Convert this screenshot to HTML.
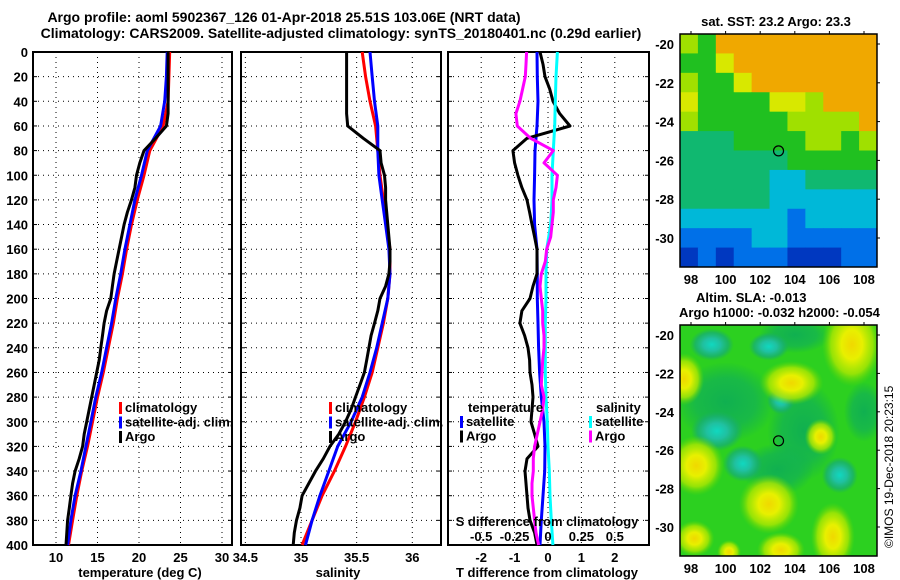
<!DOCTYPE html>
<html><head><meta charset="utf-8"><style>
html,body{margin:0;padding:0;background:#fff;}
svg{display:block;font-family:"Liberation Sans",sans-serif;font-weight:bold;}
</style></head><body>
<svg id="chart" width="900" height="580" viewBox="0 0 900 580" xmlns="http://www.w3.org/2000/svg">
<defs>
<radialGradient id="gy"><stop offset="0" stop-color="#f0d800"/><stop offset="0.35" stop-color="#e8f000"/><stop offset="0.7" stop-color="#b0e800" stop-opacity="0.8"/><stop offset="1" stop-color="#60d800" stop-opacity="0"/></radialGradient>
<radialGradient id="gt"><stop offset="0" stop-color="#10d8c0"/><stop offset="0.4" stop-color="#20c0a0"/><stop offset="0.75" stop-color="#18b070" stop-opacity="0.8"/><stop offset="1" stop-color="#18b060" stop-opacity="0"/></radialGradient>
<radialGradient id="gd"><stop offset="0" stop-color="#10b050"/><stop offset="0.6" stop-color="#14b450" stop-opacity="0.8"/><stop offset="1" stop-color="#10b050" stop-opacity="0"/></radialGradient>
<clipPath id="clipM2"><rect x="680" y="325" width="197" height="231"/></clipPath>
</defs>
<text x="284" y="22" font-size="14" text-anchor="middle">Argo profile: aoml 5902367_126 01-Apr-2018 25.51S 103.06E (NRT data)</text>
<text x="341" y="38" font-size="14" text-anchor="middle">Climatology: CARS2009. Satellite-adjusted climatology: synTS_20180401.nc (0.29d earlier)</text>
<g id="plots"></g>
</svg>
<script>
// ---- data ----
const depth20 = [0,20,40,60,80,100,120,140,160,180,200,220,240,260,280,300,320,340,360,380,400];
const depth10 = [0,10,20,30,40,50,60,70,80,90,100,110,120,130,140,150,160,170,180,190,200,210,220,230,240,250,260,270,280,290,300,310,320,330,340,350,360,370,380,390,400];
const tempClim = [23.7,23.6,23.5,22.9,21.3,20.6,19.8,19.1,18.5,18.0,17.4,16.9,16.3,15.7,15.0,14.4,13.8,13.1,12.5,12.0,11.5];
const tempSat = [23.4,23.3,23.1,22.6,21.0,20.3,19.5,18.9,18.3,17.8,17.2,16.7,16.1,15.5,14.8,14.2,13.6,13.0,12.3,11.8,11.4];
const tempArgo = [23.5,23.5,23.5,23.5,23.5,23.5,23.3,22.0,20.6,20.1,19.7,19.5,19.1,18.6,18.2,17.9,17.6,17.3,17.0,16.8,16.6,16.1,15.8,15.6,15.4,15.2,14.9,14.6,14.3,14.0,13.7,13.4,13.2,12.8,12.3,12.0,11.8,11.6,11.4,11.3,11.2];
const salClim = [35.55,35.58,35.62,35.67,35.69,35.71,35.74,35.77,35.80,35.80,35.78,35.74,35.69,35.64,35.57,35.49,35.40,35.30,35.19,35.10,35.01];
const salSat = [35.62,35.64,35.66,35.69,35.69,35.70,35.73,35.76,35.79,35.80,35.78,35.73,35.68,35.62,35.55,35.45,35.33,35.25,35.17,35.10,35.04];
const salArgo = [35.41,35.41,35.41,35.41,35.41,35.41,35.42,35.56,35.71,35.72,35.75,35.76,35.76,35.77,35.78,35.79,35.80,35.80,35.79,35.76,35.71,35.69,35.66,35.63,35.61,35.59,35.57,35.53,35.49,35.45,35.40,35.34,35.26,35.20,35.13,35.07,35.01,34.99,34.96,34.94,34.93];
const dTSat = [-0.33,-0.32,-0.30,-0.33,-0.39,-0.40,-0.42,-0.40,-0.33,-0.32,-0.32,-0.30,-0.28,-0.25,-0.20,-0.12,-0.09,-0.10,-0.15,-0.20,-0.24];
const dTArgo = [-0.24,-0.15,-0.09,0.05,0.15,0.35,0.66,-0.63,-1.05,-1.0,-0.90,-0.78,-0.63,-0.55,-0.48,-0.40,-0.33,-0.33,-0.33,-0.45,-0.54,-0.78,-0.84,-0.70,-0.60,-0.55,-0.54,-0.48,-0.45,-0.48,-0.51,-0.40,-0.30,-0.63,-0.69,-0.66,-0.63,-0.60,-0.54,-0.40,-0.33];
const dSSat = [0.07,0.06,0.055,0.05,0.04,0.03,0.03,0.02,-0.01,-0.015,-0.015,-0.02,-0.02,-0.02,-0.015,-0.005,0.0,0.01,0.015,0.025,0.037];
const dSArgo = [-0.16,-0.165,-0.17,-0.19,-0.21,-0.24,-0.23,-0.13,0.04,-0.03,0.07,0.06,0.04,0.04,0.03,0.02,-0.01,-0.02,-0.05,-0.06,-0.05,-0.04,-0.04,-0.03,-0.03,-0.04,-0.045,-0.05,-0.03,-0.04,-0.06,-0.08,-0.10,-0.11,-0.11,-0.12,-0.12,-0.11,-0.10,-0.09,-0.07];
const tempTicks = [10,15,20,25,30];
const salTicks = [34.5,35,35.5,36];
const dTTicks = [-2,-1,0,1,2];
const dSTicks = [-0.5,-0.25,0,0.25,0.5];
const depthTicks = [0,20,40,60,80,100,120,140,160,180,200,220,240,260,280,300,320,340,360,380,400];
const lonTicks = [98,100,102,104,106,108];
const latTicks = [-20,-22,-24,-26,-28,-30];

const NS='http://www.w3.org/2000/svg';
const root=document.getElementById('plots');
function mk(tag,attrs,parent,txt){const e=document.createElementNS(NS,tag);for(const k in attrs)e.setAttribute(k,attrs[k]);if(txt!==undefined)e.textContent=txt;(parent||root).appendChild(e);return e;}

const Y0=52,Y1=545;
const yD=d=>Y0+(d/400)*(Y1-Y0);
const xT=v=>56+(v-10)*8.3;
const xS=v=>301+(v-35)*111.3;
const xDT=v=>548+v*33.4;
const xDS=v=>548+v*133.6;

function panel(name,x0,x1,ticks,xf,showDepth){
  const g=mk('g',{});
  
  
  depthTicks.forEach(d=>{
    if(d>0&&d<400){const l=mk('line',{x1:x0,x2:x1,y1:yD(d),y2:yD(d),stroke:'#000','stroke-width':1,'stroke-dasharray':'1,4'},g);
    
    }
    const tk=mk('line',{x1:x0,x2:x0+4,y1:yD(d),y2:yD(d),stroke:'#000'},g);
    
    
    const tk2=mk('line',{x1:x1-4,x2:x1,y1:yD(d),y2:yD(d),stroke:'#000'},g);
    
    
    if(showDepth){const t=mk('text',{x:28,y:yD(d)+5,'font-size':13,'text-anchor':'end'},g,String(d));
      
      }
  });
  ticks.forEach(v=>{const x=xf(v);if(x>x0+1&&x<x1-1){
    const l=mk('line',{x1:x,x2:x,y1:Y0,y2:Y1,stroke:'#000','stroke-dasharray':'1,4'},g);
    
    }});
  const r=mk('rect',{x:x0,y:Y0,width:x1-x0,height:Y1-Y0,fill:'none',stroke:'#000','stroke-width':2},g);
  
  
  return g;
}
function series(name,xs,ds,xf,color,g){
  const pts=xs.map((v,i)=>xf(v).toFixed(1)+','+yD(ds[i]).toFixed(1)).join(' ');
  const p=mk('polyline',{points:pts,fill:'none',stroke:color,'stroke-width':3,'stroke-linejoin':'round'},g);
  
  
}
function xlabels(ticks,xf,y,g,name,fmt){
  ticks.forEach(v=>{const t=mk('text',{x:xf(v),y:y,'font-size':13,'text-anchor':'middle'},g,fmt?fmt(v):String(v));
    
    });
}
function label(txt,x,y,name,anchor,g,size){const t=mk('text',{x:x,y:y,'font-size':size||13,'text-anchor':anchor||'start'},g,txt);
  
  return t;}
function legend(items,x,y,g){items.forEach((it,i)=>{
  const m=mk('rect',{x:x,y:y+i*14.5-10,width:3,height:12,fill:it[1]},g);
  
  
  label(it[0],x+6,y+i*14.5,'legend-entry','start',g);});}

// Panel 1 temperature
const g1=panel('temperature-panel',33,232,tempTicks,xT,true);
series('temp-climatology-line',tempClim,depth20,xT,'#f00',g1);
series('temp-satellite-line',tempSat,depth20,xT,'#00f',g1);
series('temp-argo-line',tempArgo,depth10,xT,'#000',g1);
xlabels(tempTicks,xT,562,g1,'temp-tick-label');
label('temperature (deg C)',140,577,'temp-axis-title','middle',g1);
legend([['climatology','#f00'],['satellite-adj. clim.','#00f'],['Argo','#000']],119,412,g1);

// Panel 2 salinity
const g2=panel('salinity-panel',241,441,salTicks,xS,false);
series('sal-climatology-line',salClim,depth20,xS,'#f00',g2);
series('sal-satellite-line',salSat,depth20,xS,'#00f',g2);
series('sal-argo-line',salArgo,depth10,xS,'#000',g2);
xlabels(salTicks,xS,562,g2,'sal-tick-label');
label('salinity',338,577,'sal-axis-title','middle',g2);
legend([['climatology','#f00'],['satellite-adj. clim.','#00f'],['Argo','#000']],329,412,g2);

// Panel 3 differences
const g3=panel('difference-panel',448,649,dTTicks,xDT,false);
series('dT-satellite-line',dTSat,depth20,xDT,'#00f',g3);
series('dT-argo-line',dTArgo,depth10,xDT,'#000',g3);
series('dS-satellite-line',dSSat,depth20,xDS,'#0ff',g3);
series('dS-argo-line',dSArgo,depth10,xDS,'#f0f',g3);
label('temperature',468,412,'legend-title','start',g3);
legend([['satellite','#00f'],['Argo','#000']],460,426,g3);
label('salinity',596,412,'legend-title','start',g3);
legend([['satellite','#0ff'],['Argo','#f0f']],589,426,g3);
label('S difference from climatology',547,526,'s-axis-title','middle',g3);
xlabels(dSTicks,xDS,541,g3,'dS-tick-label');
xlabels(dTTicks,xDT,562,g3,'dT-tick-label');
label('T difference from climatology',547,577,'t-axis-title','middle',g3);

// ---- maps ----
const sstRows = [
 "LGOOOOOOOOO","GGYOOOOOOOO","LGGYOOOOOOO","YGGGGYYLOOO","LGGGGGLLLLO",
 "TTTGGGGLLGL","TTTTTTGGGGG","TTTTTCCTTTT","TTTTTCCCCCC","CCCCCCBCCCC",
 "BBBBCCBBBBB","DBDBBBDDDBB"];
const sstColors = {O:'#f0a800',Y:'#d8e800',L:'#a0e000',G:'#20c020',T:'#10b870',C:'#00b8d8',B:'#0070e8',D:'#0038c0'};
const slaYellow = [[107.3,-20.5,30,42],[103.8,-22.5,32,22],[97.6,-22.3,20,26],[98.3,-26.8,28,30],[102.5,-28.8,30,30],[106.2,-30.5,22,34],[98.2,-30.6,20,18],[103.2,-31.2,24,18],[105.5,-25.3,16,18],[100.2,-31.3,12,12]];
const slaTeal = [[99.5,-25,26,20],[101,-26.7,20,18],[106.6,-27.3,18,18],[103.2,-23.4,14,14],[99.2,-20.5,22,16],[102.5,-20.6,20,14]];

const lonX=l=>691+(l-98)*17.3;
const lat1=l=>44+(-20-l)*19.4;
const lat2=l=>335+(-20-l)*19.2;

function mapAxes(g,top,bot,latf,name){
  const fr=mk('rect',{x:680,y:top,width:197,height:bot-top,fill:'none',stroke:'#000','stroke-width':1.5},g);
  
  
  lonTicks.forEach(l=>{label(String(l),lonX(l),bot+17,'lon-tick-label','middle',g);
    const k=mk('line',{x1:lonX(l),x2:lonX(l),y1:top-3,y2:top,stroke:'#000'},g);
    
    });
  latTicks.forEach(l=>{label(String(l),674,latf(l)+5,'lat-tick-label','end',g);
    const k=mk('line',{x1:877,x2:880,y1:latf(l),y2:latf(l),stroke:'#000'},g);
    
    });
  const c=mk('circle',{cx:lonX(103.06),cy:latf(-25.51),r:5,fill:'none',stroke:'#000','stroke-width':1.2},g);
  
  
}
const gm1=mk('g',{});


const cw=197/11,ch=233/12;
sstRows.forEach((row,r)=>{[...row].forEach((c,i)=>{
  const cell=mk('rect',{x:680+i*cw,y:34+r*ch,width:cw+0.5,height:ch+0.5,fill:sstColors[c]},gm1);
  
  });});
label('sat. SST: 23.2  Argo: 23.3',776,26,'sst-map-title','middle',gm1);
mapAxes(gm1,34,267,lat1,'sst-map');

const gm2=mk('g',{});


const bg=mk('rect',{x:680,y:325,width:197,height:231,fill:'#2cd020'},gm2);


const gc=mk('g',{'clip-path':'url(#clipM2)'},gm2);
[[100,-23.5,50,40],[104.5,-25,36,50],[103,-27,36,26],[104,-20,36,18],[108,-24,20,30]].forEach(b=>{
  const e=mk('ellipse',{cx:lonX(b[0]),cy:lat2(b[1]),rx:b[2],ry:b[3],fill:'url(#gd)'},gc);
  
  });
slaTeal.forEach(b=>{const e=mk('ellipse',{cx:lonX(b[0]),cy:lat2(b[1]),rx:b[2],ry:b[3],fill:'url(#gt)'},gc);
  
  });
slaYellow.forEach(b=>{const e=mk('ellipse',{cx:lonX(b[0]),cy:lat2(b[1]),rx:b[2],ry:b[3],fill:'url(#gy)'},gc);
  
  });
label('Altim. SLA: -0.013',696,302,'sla-title','start',gm2);
label('Argo h1000: -0.032 h2000: -0.054',679,317,'argo-height-title','start',gm2);
mapAxes(gm2,325,556,lat2,'sla-map');

const cp=mk('text',{x:0,y:0,'font-size':12,'font-weight':'normal','text-anchor':'start',transform:'translate(893,548) rotate(-90)'});
cp.textContent='©IMOS 19-Dec-2018 20:23:15';


</script>
</body></html>
